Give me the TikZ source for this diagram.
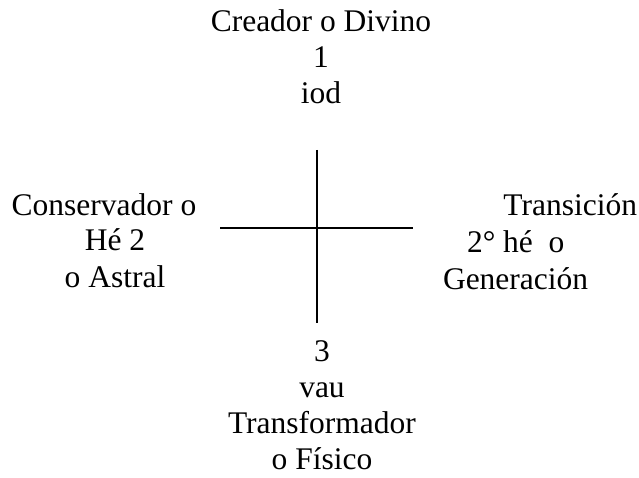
\documentclass[tikz,border=0pt]{standalone}
\usepackage{fontspec}
\setmainfont{Liberation Serif}
\usetikzlibrary{positioning}

\begin{document}
\begin{tikzpicture}[
            x=1pt, y=-1pt,
            label/.style={font=\fontsize{31.5}{36}\selectfont, align=center, inner sep=0pt},
            line width=2pt
        ]
            \useasboundingbox (0,0) rectangle (639,478);
            % the cross
            \coordinate (top) at (317,150);
            \coordinate (bottom) at (317,323);
            \coordinate (left) at (220,228);
            \coordinate (right) at (413,228);
            \draw (top) -- (bottom);
            \draw (left) -- (right);
            % the four names (base anchor is the last line)
            \node[label, anchor=base] (creador) at (321,104) {Creador o Divino\\1\\iod};
            \node[label, anchor=base] (conservador) at (115,287) {Conservador o\hspace*{0.7em}\\Hé 2\\o Astral};
            \node[label, anchor=base east] (transicion) at (638,215) {Transición};
            \node[label, anchor=base west] (he) at (466,252) {2° hé\ \ o};
            \node[label, anchor=base west] (generacion) at (442,289) {Generación};
            \node[label, anchor=base] (transformador) at (322,469) {3\\vau\\Transformador\\o Físico};
        \end{tikzpicture}
\end{document}
